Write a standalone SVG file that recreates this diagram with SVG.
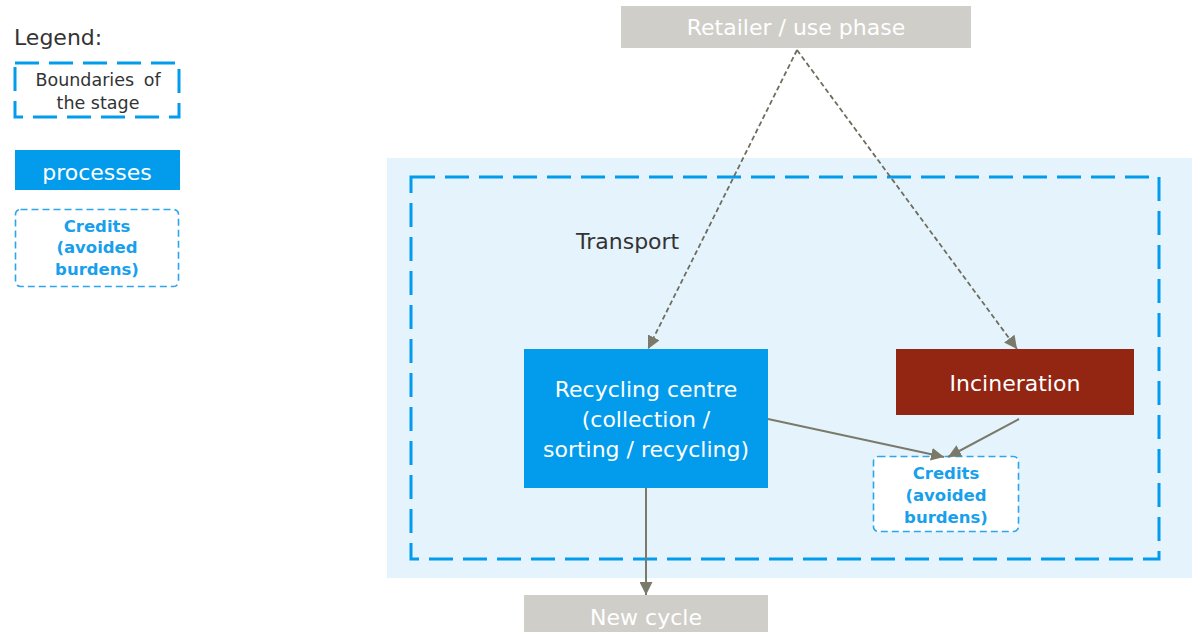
<svg xmlns="http://www.w3.org/2000/svg" width="1192" height="632" viewBox="0 0 1192 632">
  <defs>
    <marker id="arrowL" viewBox="0 0 10 10" refX="10" refY="5" markerWidth="13" markerHeight="13" orient="auto" markerUnits="userSpaceOnUse">
      <path d="M0,0 L10,5 L0,10 z" fill="#7a7a6a"/>
    </marker>
    <style>
      text { font-family: "DejaVu Sans", Verdana, sans-serif; }
      .grey { fill: #d0cec9; }
      .greytxt { fill: #ffffff; font-size: 22px; }
      .blue { fill: #039cec; }
      .whitetxt { fill: #ffffff; font-size: 22px; }
      .dark { fill: #333333; }
      .boundary { fill: none; stroke: #039cec; stroke-width: 3; stroke-dasharray: 24 10; }
      .credit { fill: #ffffff; stroke: #2aa6ee; stroke-width: 1.6; stroke-dasharray: 7 4; }
      .credittxt { fill: #18a0ec; font-size: 16.5px; font-weight: bold; }
      .edge { fill: none; stroke: #7a7a6a; stroke-width: 2; marker-end: url(#arrowL); }
      .edge-dash { fill: none; stroke: #6e6e5e; stroke-width: 1.8; stroke-dasharray: 5 3; marker-end: url(#arrowL); }
    </style>
  </defs>

  <!-- legend -->
  <g id="legend">
    <text x="14" y="45" class="dark" font-size="22">Legend:</text>
    <rect x="15" y="63" width="164" height="54" class="boundary"/>
    <text x="98" y="86" class="dark" font-size="17.5" text-anchor="middle" word-spacing="4">Boundaries of</text>
    <text x="98" y="109" class="dark" font-size="17.5" text-anchor="middle">the stage</text>
    <rect x="15" y="150" width="165" height="40" class="blue"/>
    <text x="97" y="180" class="whitetxt" text-anchor="middle">processes</text>
    <rect x="15.5" y="209.5" width="163" height="77" rx="5" class="credit"/>
    <text x="97" y="232" class="credittxt" text-anchor="middle">Credits</text>
    <text x="97" y="253" class="credittxt" text-anchor="middle">(avoided</text>
    <text x="97" y="275" class="credittxt" text-anchor="middle">burdens)</text>
  </g>

  <!-- end-of-life stage -->
  <g id="stage">
    <rect x="387" y="158" width="805" height="420" fill="#e5f3fd"/>
    <rect x="411" y="177" width="748" height="382" class="boundary"/>
    <text x="576" y="249" class="dark" font-size="22">Transport</text>
  </g>

  <g id="retailer">
    <rect x="621" y="6" width="350" height="42" class="grey"/>
    <text x="796" y="35" class="greytxt" text-anchor="middle">Retailer / use phase</text>
  </g>

  <g id="recycling">
    <rect x="524" y="349" width="244" height="139" class="blue"/>
    <text x="646" y="397" class="whitetxt" text-anchor="middle">Recycling centre</text>
    <text x="646" y="427" class="whitetxt" text-anchor="middle">(collection /</text>
    <text x="646" y="457" class="whitetxt" text-anchor="middle">sorting / recycling)</text>
  </g>

  <g id="incineration">
    <rect x="896" y="349" width="238" height="66" fill="#922613"/>
    <text x="1015" y="391" class="whitetxt" text-anchor="middle">Incineration</text>
  </g>

  <g id="credits">
    <rect x="873.5" y="456.5" width="145" height="75" rx="5" class="credit"/>
    <text x="946" y="479" class="credittxt" text-anchor="middle">Credits</text>
    <text x="946" y="501" class="credittxt" text-anchor="middle">(avoided</text>
    <text x="946" y="523" class="credittxt" text-anchor="middle">burdens)</text>
  </g>

  <g id="newcycle">
    <rect x="524" y="595" width="244" height="40" class="grey"/>
    <text x="646" y="625" class="greytxt" text-anchor="middle">New cycle</text>
  </g>

  <!-- connectors -->
  <g id="connectors">
    <path d="M797,50 L648,349" class="edge-dash"/>
    <path d="M797,50 L1017,349" class="edge-dash"/>
    <path d="M768,419 L944,457" class="edge"/>
    <path d="M1019,419 L948,457" class="edge"/>
    <path d="M646,488 L646,595" class="edge"/>
  </g>
</svg>
